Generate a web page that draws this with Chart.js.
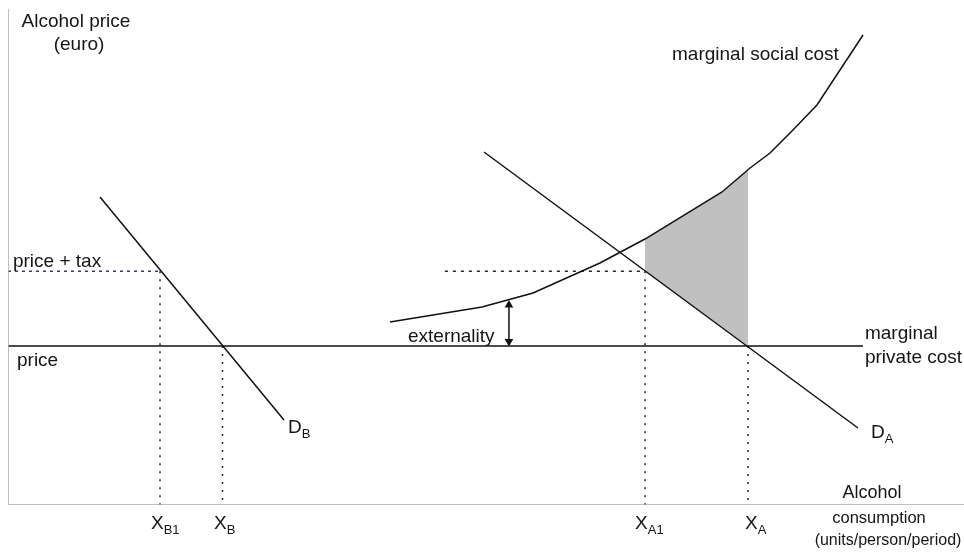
<!DOCTYPE html>
<html>
<head>
<meta charset="utf-8">
<script src="https://cdn.jsdelivr.net/npm/chart.js@4.4.0/dist/chart.umd.min.js"></script>
<style>
  html, body { margin: 0; padding: 0; background: #fff; }
  #wrap { width: 964px; height: 553px; }
</style>
</head>
<body>
<div id="wrap"><canvas id="c" width="964" height="553"></canvas></div>
<script>
// quantity (x) and price (y) in abstract units, 0..100
const priceLevel = 31.5
const taxLevel   = 46.3
const qB1 = 15.9, qB = 22.44, qA1 = 66.63, qA = 77.41

const demandB    = [{ x: 9.62, y: 60.99 }, { x: 28.87, y: 16.83 }]
const demandA    = [{ x: 49.79, y: 69.90 }, { x: 88.91, y: 15.25 }]
const socialCost = [
  { x: 39.96, y: 36.24 }, { x: 49.58, y: 39.21 }, { x: 54.92, y: 41.98 },
  { x: 61.92, y: 47.92 }, { x: 66.63, y: 52.67 }, { x: 74.69, y: 61.98 },
  { x: 77.62, y: 66.73 }, { x: 79.71, y: 69.70 }, { x: 82.11, y: 74.26 },
  { x: 84.62, y: 79.21 }, { x: 89.44, y: 93.07 },
]
const welfareLoss = [
  { x: qA1, y: 52.67 }, { x: 74.69, y: 61.98 }, { x: qA, y: 66.4 },
  { x: qA, y: priceLevel }, { x: qA1, y: taxLevel }, { x: qA1, y: 52.67 },
]
const extX = 52.4, extTop = 40.5

// text labels: [text, subscript, x, y, align, size]
const labels = [
  ['Alcohol price', '', 7.11, 94.65, 'center', 19],
  ['(euro)', '', 7.43, 90.1, 'center', 19],
  ['price + tax', '', 0.52, 47.13, 'left', 19],
  ['price', '', 0.94, 27.52, 'left', 19],
  ['D', 'B', 29.29, 14.26, 'left', 19],
  ['externality', '', 41.84, 32.28, 'left', 19],
  ['marginal social cost', '', 69.46, 88.12, 'left', 19],
  ['marginal', '', 89.64, 32.87, 'left', 19],
  ['private cost', '', 89.64, 28.12, 'left', 19],
  ['D', 'A', 90.27, 13.27, 'left', 19],
  ['X', 'B1', 14.96, -4.85, 'left', 19],
  ['X', 'B', 21.55, -4.85, 'left', 19],
  ['X', 'A1', 65.59, -4.85, 'left', 19],
  ['X', 'A', 77.09, -4.85, 'left', 19],
  ['Alcohol', '', 90.38, 1.35, 'center', 18],
  ['consumption', '', 91.11, -3.56, 'center', 16.5],
  ['(units/person/period)', '', 92.05, -7.92, 'center', 16],
]

const solid  = { borderColor: '#111', borderWidth: 1.5, pointRadius: 0, showLine: true, fill: false }
const dotted = { borderColor: '#222', borderWidth: 1.5, borderDash: [2, 6], pointRadius: 0, showLine: true, fill: false }
const axis   = { borderColor: '#aaa', borderWidth: 1.5, pointRadius: 0, showLine: true, fill: false }

const textPlugin = {
  id: 'texts',
  afterDatasetsDraw(chart) {
    const { ctx, scales: { x, y } } = chart
    ctx.save()
    ctx.fillStyle = '#151515'
    ctx.textBaseline = 'alphabetic'
    labels.forEach(([t, sub, lx, ly, align, size]) => {
      ctx.font = `${size}px "Liberation Sans", Arial, sans-serif`
      ctx.textAlign = align
      const px = x.getPixelForValue(lx)
      const py = y.getPixelForValue(ly)
      ctx.fillText(t, px, py)
      if (sub) {
        const w = ctx.measureText(t).width
        ctx.font = `13px "Liberation Sans", Arial, sans-serif`
        ctx.textAlign = 'left'
        ctx.fillText(sub, px + w, py + 5)
      }
    })
    ctx.restore()
  }
}

new Chart(document.getElementById('c'), {
  type: 'scatter',
  data: {
    datasets: [
      { ...axis, data: [{ x: 0, y: 98.2 }, { x: 0, y: 0 }, { x: 100, y: 0 }] },
      { ...solid, data: [{ x: 0, y: priceLevel }, { x: 89.44, y: priceLevel }] },
      { ...solid, data: demandB },
      { ...solid, data: demandA },
      { ...solid, data: socialCost },
      { ...dotted, borderColor: '#33339a', borderDash: [3, 4], data: [{ x: 0, y: taxLevel }, { x: qB1, y: taxLevel }] },
      { ...dotted, borderDash: [3, 5], data: [{ x: 45.7, y: taxLevel }, { x: qA1, y: taxLevel }] },
      { ...dotted, data: [{ x: qB1, y: taxLevel }, { x: qB1, y: 0 }] },
      { ...dotted, data: [{ x: qB, y: priceLevel }, { x: qB, y: 0 }] },
      { ...dotted, data: [{ x: qA1, y: taxLevel }, { x: qA1, y: 0 }] },
      { ...dotted, data: [{ x: qA, y: priceLevel }, { x: qA, y: 0 }] },
      {
        ...solid, data: [{ x: extX, y: extTop - 0.9 }, { x: extX, y: priceLevel + 0.9 }],
        pointRadius: 5, pointStyle: 'triangle', pointRotation: [0, 180],
        pointBackgroundColor: '#111', pointBorderWidth: 0,
      },
      {
        data: welfareLoss, showLine: true, pointRadius: 0, borderWidth: 0,
        borderColor: 'rgba(0,0,0,0)', backgroundColor: '#c0c0c0', fill: 'shape',
      },
    ]
  },
  options: {
    responsive: false,
    animation: false,
    layout: { autoPadding: false, padding: { left: 8, right: 0, top: 0, bottom: 48 } },
    plugins: { legend: { display: false }, tooltip: { enabled: false } },
    elements: { line: { tension: 0 } },
    scales: {
      x: { type: 'linear', min: 0, max: 100, display: false },
      y: { type: 'linear', min: 0, max: 100, display: false },
    },
  },
  plugins: [textPlugin],
})
</script>
</body>
</html>
